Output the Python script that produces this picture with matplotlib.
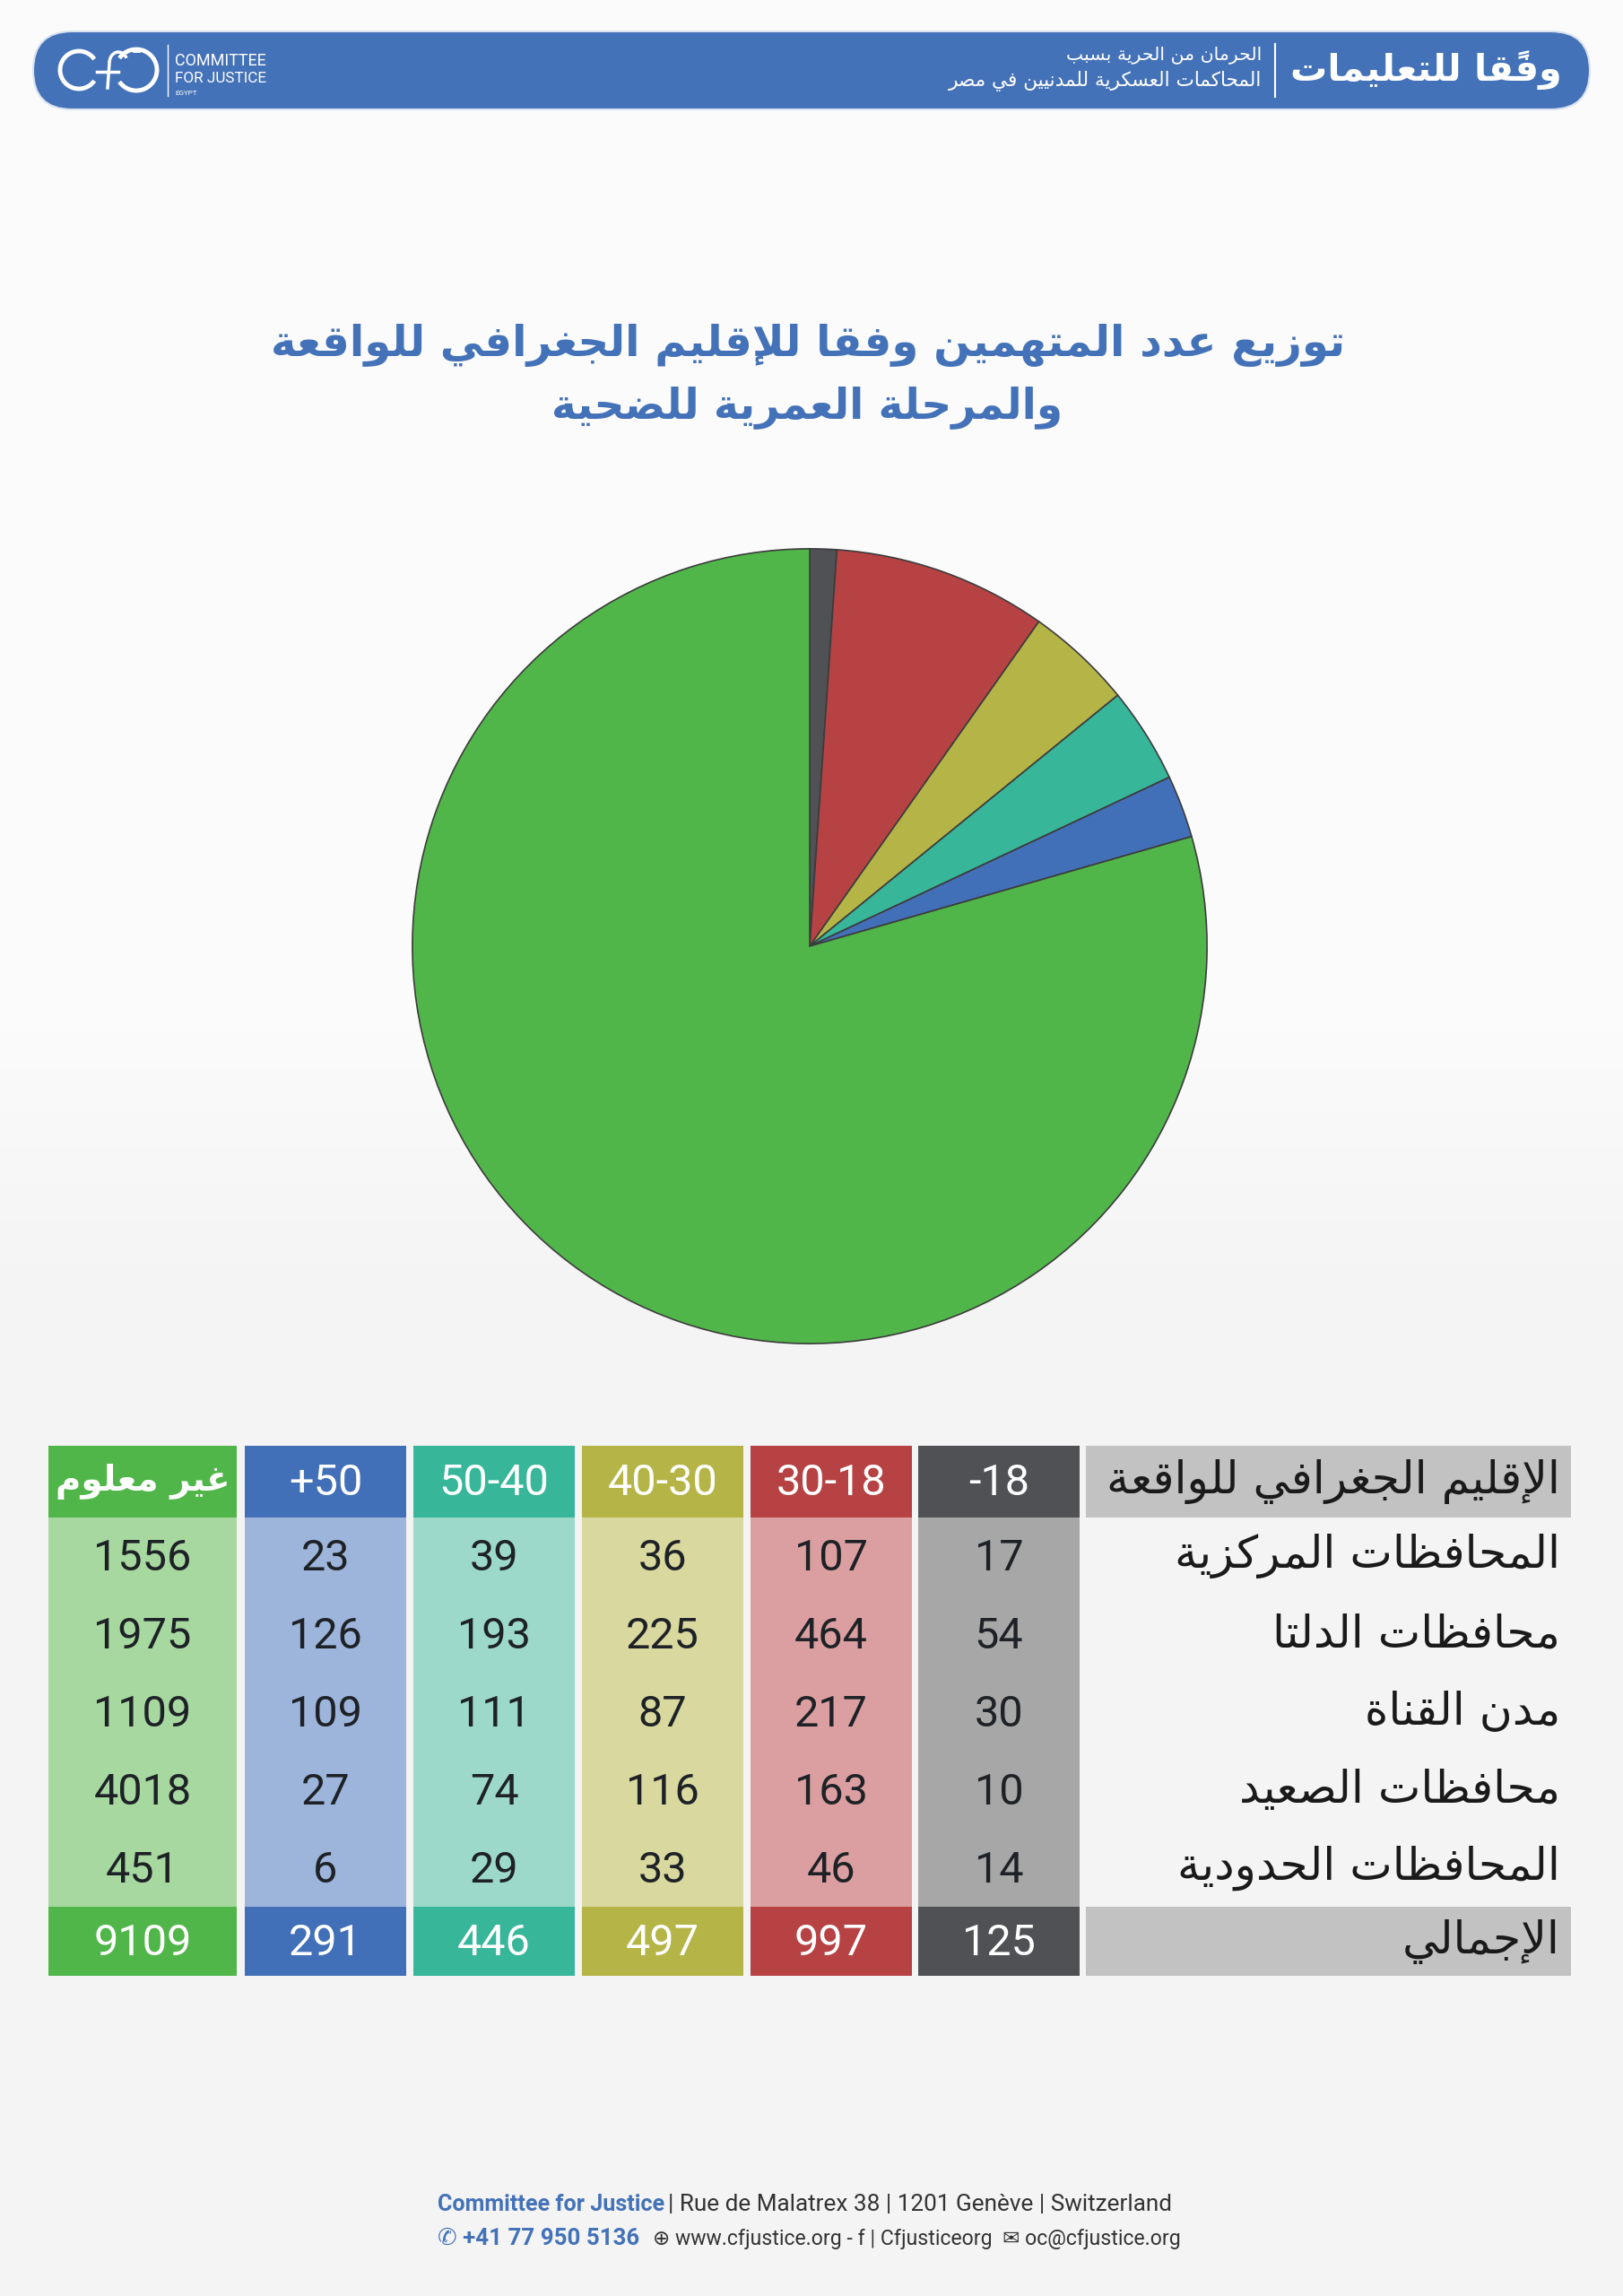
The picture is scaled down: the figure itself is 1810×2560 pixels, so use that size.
import matplotlib
matplotlib.use('Agg')
import matplotlib.pyplot as plt
from matplotlib.patches import Rectangle, FancyBboxPatch, Arc
import numpy as np

# ---- data ----
title_1 = "توزيع عدد المتهمين وفقا للإقليم الجغرافي للواقعة"
title_2 = "والمرحلة العمرية للضحية"
region_header = "الإقليم الجغرافي للواقعة"
regions = ["المحافظات المركزية", "محافظات الدلتا", "مدن القناة",
           "محافظات الصعيد", "المحافظات الحدودية"]
total_label = "الإجمالي"

# age groups, right to left as in the table
age_groups = ["-18", "30-18", "40-30", "50-40", "+50", "غير معلوم"]
under_18 = [17, 54, 30, 10, 14]
age_18_30 = [107, 464, 217, 163, 46]
age_30_40 = [36, 225, 87, 116, 33]
age_40_50 = [39, 193, 111, 74, 29]
over_50 = [23, 126, 109, 27, 6]
unknown = [1556, 1975, 1109, 4018, 451]
columns = [under_18, age_18_30, age_30_40, age_40_50, over_50, unknown]
totals = [sum(c) for c in columns]

dark_cols = ['#505155', '#b74244', '#b5b447', '#37b699', '#4270b8', '#51b649']
light_cols = ['#a7a7a8', '#dc9fa1', '#d9d89f', '#9cd9cb', '#9db4db', '#a6d8a0']
blue = '#4472b8'

# ---- minimal arabic shaping (presentation forms + visual order) ----
dual = {'ئ': 0xFE89, 'ب': 0xFE8F, 'ت': 0xFE95, 'ث': 0xFE99, 'ج': 0xFE9D, 'ح': 0xFEA1,
        'خ': 0xFEA5, 'س': 0xFEB1, 'ش': 0xFEB5, 'ص': 0xFEB9, 'ض': 0xFEBD, 'ط': 0xFEC1,
        'ظ': 0xFEC5, 'ع': 0xFEC9, 'غ': 0xFECD, 'ف': 0xFED1, 'ق': 0xFED5, 'ك': 0xFED9,
        'ل': 0xFEDD, 'م': 0xFEE1, 'ن': 0xFEE5, 'ه': 0xFEE9, 'ي': 0xFEF1}
right = {'آ': 0xFE81, 'أ': 0xFE83, 'ؤ': 0xFE85, 'إ': 0xFE87, 'ا': 0xFE8D, 'ة': 0xFE93,
         'د': 0xFEA9, 'ذ': 0xFEAB, 'ر': 0xFEAD, 'ز': 0xFEAF, 'و': 0xFEED, 'ى': 0xFEEF}
lamalef = {'ا': 0xFEFB, 'أ': 0xFEF7, 'إ': 0xFEF9, 'آ': 0xFEF5}


def ar(text):
    units = []
    i = 0
    while i < len(text):
        c = text[i]
        if '\u064B' <= c <= '\u0652' and units:
            units[-1][2].append(c)
            i += 1
            continue
        if c == 'ل' and i + 1 < len(text) and text[i + 1] in lamalef:
            units.append(['R', lamalef[text[i + 1]], []])
            i += 2
            continue
        if c in dual:
            units.append(['D', dual[c], []])
        elif c in right:
            units.append(['R', right[c], []])
        elif c == 'ء':
            units.append(['N', 0xFE80, []])
        else:
            units.append(['X', c, []])
        i += 1
    res = []
    for k, (kind, base, marks) in enumerate(units):
        if kind == 'X':
            res.append(base + ''.join(marks))
            continue
        jp = k > 0 and units[k - 1][0] == 'D'
        jn = kind == 'D' and k + 1 < len(units) and units[k + 1][0] in ('D', 'R')
        if kind == 'D':
            off = 3 if (jp and jn) else 1 if jp else 2 if jn else 0
        elif kind == 'R':
            off = 1 if jp else 0
        else:
            off = 0
        res.append(chr(base + off) + ''.join(marks))
    return ''.join(reversed(res))


AR = ['DejaVu Sans']
NUM = ['Roboto', 'DejaVu Sans']

fig = plt.figure(figsize=(18.1, 25.6), dpi=100)
fig.patch.set_facecolor('#f5f5f5')
bg = fig.add_axes([0, 0, 1, 1])
bg.set_xlim(0, 1810)
bg.set_ylim(2560, 0)
bg.axis('off')
renderer = fig.canvas.get_renderer()


def fit(t, width):
    bb = t.get_window_extent(renderer)
    t.set_fontsize(t.get_fontsize() * width / bb.width)
    return t


# soft vertical background shading: near white on top, light grey below
yy = np.linspace(0, 2560, 256)
shade = np.clip((yy - 1150) / 300, 0, 1)
top_c = np.array([251, 251, 251]) / 255
bot_c = np.array([244, 244, 244]) / 255
grad = top_c[None, :] * (1 - shade[:, None]) + bot_c[None, :] * shade[:, None]
bg.imshow(grad[:, None, :], extent=(0, 1810, 2560, 0), aspect='auto', zorder=0)
bg.set_xlim(0, 1810)
bg.set_ylim(2560, 0)

# ---- header banner ----
bg.add_patch(FancyBboxPatch((37, 35), 1736, 87, boxstyle='round,pad=0,rounding_size=43.5',
                            fc=blue, ec='#d8e2f0', lw=1.5, zorder=1))
bg.add_patch(Arc((88, 78), 42, 42, theta1=35, theta2=325, color='white', lw=3.5, zorder=2))
bg.add_patch(Arc((152, 78), 46, 46, theta1=215, theta2=505, color='white', lw=3.5, zorder=2))
bg.add_patch(Arc((132, 70), 20, 24, theta1=180, theta2=330, color='white', lw=2.5, zorder=2))
bg.plot([122, 120], [70, 98], color='white', lw=2.5, zorder=2)
bg.plot([108, 132], [80, 80], color='white', lw=2.5, zorder=2)
bg.plot([149, 155], [57, 57], color='white', lw=2, zorder=2)
bg.plot([187, 187], [50, 107], color='white', lw=1, zorder=2)
fit(bg.text(195, 68, "COMMITTEE", color='white', fontsize=12, family=NUM, va='center'), 102)
fit(bg.text(195, 88, "FOR JUSTICE", color='white', fontsize=12, family=NUM, va='center'), 102)
fit(bg.text(195, 104, "EGYPT", color='white', fontsize=6, family=NUM, va='center'), 25)

fit(bg.text(1742, 78, ar("وفقًا للتعليمات"), color='white', fontsize=30, family=AR,
            weight='bold', ha='right', va='center'), 302)
bg.plot([1422, 1422], [49, 108], color='white', lw=1.5, zorder=2)
fit(bg.text(1407, 61, ar("الحرمان من الحرية بسبب"), color='white', fontsize=14,
            family=AR, ha='right', va='center'), 219)
fit(bg.text(1407, 90, ar("المحاكمات العسكرية للمدنيين في مصر"), color='white', fontsize=14,
            family=AR, ha='right', va='center'), 354)

# ---- title ----
fit(bg.text(901, 385, ar(title_1), color=blue, fontsize=40, family=AR, weight='bold',
            ha='center', va='center'), 1199)
fit(bg.text(900, 454, ar(title_2), color=blue, fontsize=40, family=AR, weight='bold',
            ha='center', va='center'), 571)

# ---- pie ----
pax = fig.add_axes([459 / 1810, (2560 - 1499) / 2560, 888 / 1810, 888 / 2560])
pax.pie(totals, colors=dark_cols, startangle=90, counterclock=False,
        wedgeprops=dict(edgecolor='#3c3c3c', linewidth=1.2))
pax.set_xlim(-1.002, 1.002)
pax.set_ylim(-1.002, 1.002)
pax.axis('off')

# ---- table ----
col_left = [1024, 837, 649, 461, 273, 54]
col_w = [180, 180, 180, 180, 180, 210]
y_head, h_head = 1612, 80
y_body, h_row = 1692, 86.8
y_tot, h_tot = 2126, 77
num_color = '#1e2226'

for j, vals in enumerate(columns):
    x0, w = col_left[j], col_w[j]
    xc = x0 + w / 2
    bg.add_patch(Rectangle((x0, y_head), w, h_head, fc=dark_cols[j], ec='none'))
    bg.add_patch(Rectangle((x0, y_body), w, h_row * 5, fc=light_cols[j], ec='none'))
    bg.add_patch(Rectangle((x0, y_tot), w, h_tot, fc=dark_cols[j], ec='none'))
    if age_groups[j][0].isdigit() or age_groups[j][0] in '+-':
        bg.text(xc, y_head + h_head / 2 + 2, age_groups[j], color='white', fontsize=35,
                family=NUM, ha='center', va='center')
    else:
        fit(bg.text(xc, y_head + h_head / 2, ar(age_groups[j]), color='white', fontsize=30,
                    family=AR, weight='bold', ha='center', va='center'), 194)
    for i, v in enumerate(vals):
        bg.text(xc, y_body + h_row * (i + 0.5) + 3, str(v), color=num_color, fontsize=35,
                family=NUM, ha='center', va='center')
    bg.text(xc, y_tot + h_tot / 2 + 2, str(totals[j]), color='white', fontsize=35,
            family=NUM, ha='center', va='center')

bg.add_patch(Rectangle((1211, y_head), 541, h_head, fc='#c2c2c2', ec='none'))
bg.add_patch(Rectangle((1211, y_tot), 541, h_tot, fc='#c2c2c2', ec='none'))
lab = fit(bg.text(1740, y_head + h_head / 2, ar(region_header), color='#1a1a1a', fontsize=30,
                  family=AR, ha='right', va='center'), 505)
fs = lab.get_fontsize()
for i, r in enumerate(regions):
    bg.text(1740, y_body + h_row * (i + 0.5), ar(r), color='#1a1a1a', fontsize=fs,
            family=AR, ha='right', va='center')
bg.text(1740, y_tot + h_tot / 2, ar(total_label), color='#1a1a1a', fontsize=fs,
        family=AR, ha='right', va='center')

# ---- footer ----
fit(bg.text(741, 2458, "Committee for Justice", color=blue, fontsize=17, family=NUM,
            weight='bold', ha='right', va='center'), 253)
fit(bg.text(745, 2458, "| Rue de Malatrex 38 | 1201 Genève | Switzerland", color='#333333',
            fontsize=17, family=NUM, ha='left', va='center'), 564)
fit(bg.text(713, 2496, "✆ +41 77 950 5136", color=blue, fontsize=16, family=NUM,
            weight='bold', ha='right', va='center'), 225)
fit(bg.text(728, 2496, "⊕ www.cfjustice.org - f | Cfjusticeorg  ✉ oc@cfjustice.org",
            color='#333333', fontsize=15, family=NUM, ha='left', va='center'), 590)

fig.savefig('out.png', dpi=100, facecolor=fig.get_facecolor())
